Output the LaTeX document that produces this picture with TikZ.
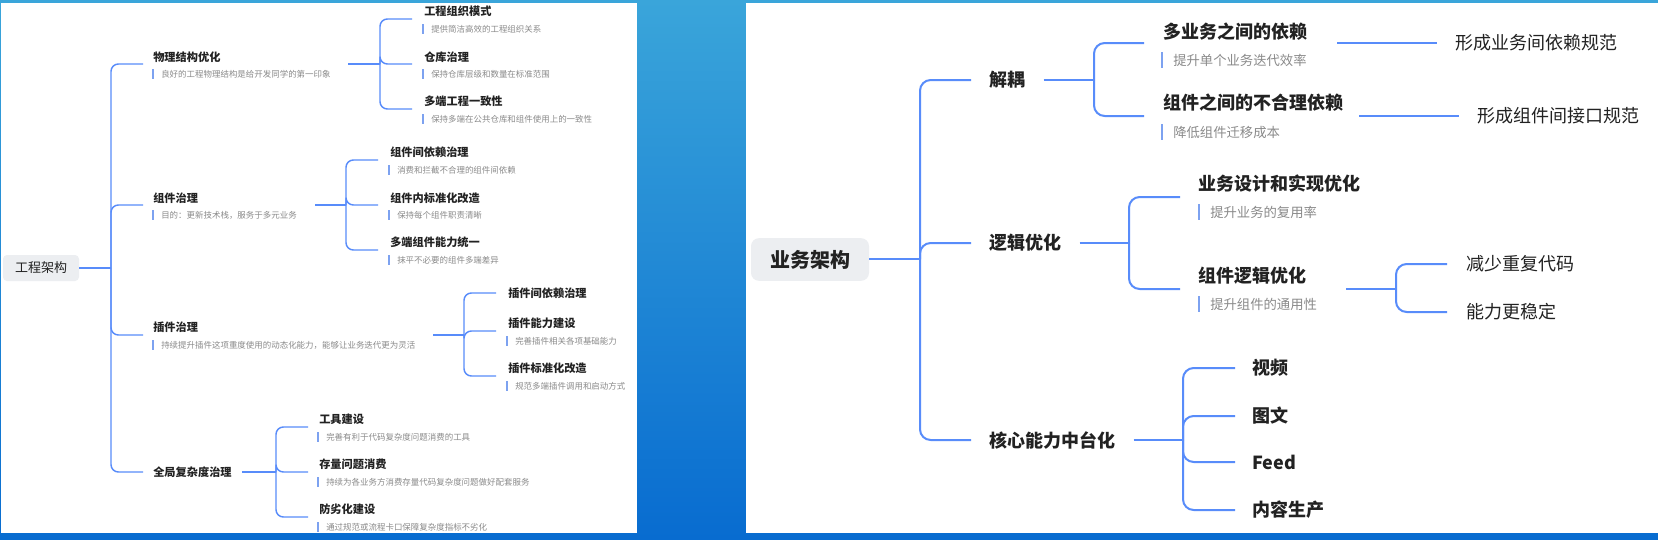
\documentclass[tikz,border=0pt]{standalone}
\usepackage{fontspec}
\setmainfont{Noto Sans CJK SC}
\definecolor{lblue}{RGB}{88,140,250}
\definecolor{barblue}{RGB}{125,162,240}
\definecolor{ttl}{RGB}{34,34,34}
\definecolor{subg}{RGB}{138,138,138}
\definecolor{rootbg}{RGB}{236,238,241}
\definecolor{bgtop}{RGB}{58,165,218}
\definecolor{bgbot}{RGB}{8,108,208}
\tikzset{
 lconn/.style={draw=lblue, line width=1.1pt, rounded corners=5.5pt},
 rconn/.style={draw=lblue, line width=1.5pt, rounded corners=8pt},
 ltitle/.style={anchor=west, inner sep=0pt, text=ttl, font=\bfseries\fontsize{8.4pt}{10pt}\selectfont},
 lsub/.style={anchor=west, inner sep=0pt, text=subg, font=\fontsize{6.35pt}{8pt}\selectfont},
 lbar/.style={draw=barblue, line width=0.9pt},
 rtitle/.style={anchor=west, inner sep=0pt, text=ttl, font=\bfseries\fontsize{13.5pt}{16pt}\selectfont},
 rleaf/.style={anchor=west, inner sep=0pt, text=ttl, font=\fontsize{13.5pt}{16pt}\selectfont},
 rsub/.style={anchor=west, inner sep=0pt, text=subg, font=\fontsize{10pt}{12pt}\selectfont},
 rbar/.style={draw=barblue, line width=1.2pt},
 lroot/.style={fill=rootbg, rounded corners=3pt, minimum width=57pt, minimum height=19.5pt, inner sep=0pt, text=ttl, font=\fontsize{9.75pt}{12pt}\selectfont},
 rroot/.style={fill=rootbg, rounded corners=6pt, minimum width=88.5pt, minimum height=32pt, inner sep=0pt, text=ttl, font=\bfseries\fontsize{15pt}{18pt}\selectfont},
}
\newcommand\Lsub[4]{\node[lsub] (#1) at (#2,#3) {#4};
  \draw[lbar] ([xshift=-6pt,yshift=0.5pt]#1.north west) -- ([xshift=-6pt,yshift=-0.5pt]#1.south west);}
\newcommand\Rsub[4]{\node[rsub] (#1) at (#2,#3) {#4};
  \draw[rbar] ([xshift=-8.25pt,yshift=1pt]#1.north west) -- ([xshift=-8.25pt,yshift=-1pt]#1.south west);}
\begin{document}
\begin{tikzpicture}[x=0.75pt,y=-0.75pt]
\useasboundingbox (0,0) rectangle (1658,539);
\shade[top color=bgtop, bottom color=bgbot] (0,0) rectangle (1658,539);
\fill[white] (1,3) rectangle (637,533);
\fill[white] (746,3) rectangle (1658,533);

% ================= LEFT PANEL =================
\node[lroot] (L0) at (41,268) {工程架构};
\coordinate (jL0) at (111,268);
\draw[lconn] (L0.east) -- (jL0);

% --- A
\coordinate (Ain) at (143,64); \coordinate (Aout) at (348,64); \coordinate (jA) at (380,64);
\node[ltitle] (A) at (153,57) {物理结构优化};
\Lsub{As}{161}{74}{良好的工程物理结构是给开发同学的第一印象}
\draw[lconn] (jL0) |- (Ain);
\draw[lconn] (Aout) -- (jA);
\coordinate (A1in) at (412,19); \coordinate (A2in) at (412,64); \coordinate (A3in) at (412,109);
\node[ltitle] (A1) at (424,11) {工程组织模式};
\Lsub{A1s}{431}{29}{提供简洁高效的工程组织关系}
\node[ltitle] (A2) at (424,57) {仓库治理};
\Lsub{A2s}{431}{74}{保持仓库层级和数量在标准范围}
\node[ltitle] (A3) at (424,101) {多端工程一致性};
\Lsub{A3s}{431}{119}{保持多端在公共仓库和组件使用上的一致性}
\draw[lconn] (jA) |- (A1in);
\draw[lconn] (jA) |- (A2in);
\draw[lconn] (jA) |- (A3in);

% --- B
\coordinate (Bin) at (143,205); \coordinate (Bout) at (315,205); \coordinate (jB) at (346,205);
\node[ltitle] (B) at (153,198) {组件治理};
\Lsub{Bs}{161}{215}{目的：更新技术栈，服务于多元业务}
\draw[lconn] (jL0) |- (Bin);
\draw[lconn] (Bout) -- (jB);
\coordinate (B1in) at (378,160); \coordinate (B2in) at (378,205); \coordinate (B3in) at (378,250);
\node[ltitle] (B1) at (390,152) {组件间依赖治理};
\Lsub{B1s}{397}{170}{消费和拦截不合理的组件间依赖}
\node[ltitle] (B2) at (390,198) {组件内标准化改造};
\Lsub{B2s}{397}{215}{保持每个组件职责清晰}
\node[ltitle] (B3) at (390,242) {多端组件能力统一};
\Lsub{B3s}{397}{260}{抹平不必要的组件多端差异}
\draw[lconn] (jB) |- (B1in);
\draw[lconn] (jB) |- (B2in);
\draw[lconn] (jB) |- (B3in);

% --- C
\coordinate (Cin) at (143,335); \coordinate (Cout) at (433,335); \coordinate (jC) at (464,335);
\node[ltitle] (C) at (153,327) {插件治理};
\Lsub{Cs}{161}{345}{持续提升插件这项重度使用的动态化能力，能够让业务迭代更为灵活}
\draw[lconn] (jL0) |- (Cin);
\draw[lconn] (Cout) -- (jC);
\coordinate (C2in) at (496,331); \coordinate (C3in) at (496,376);
\node[ltitle, inner xsep=9pt] (C1) at (496,293) {插件间依赖治理};
\node[ltitle] (C2) at (508,323) {插件能力建设};
\Lsub{C2s}{515}{341}{完善插件相关各项基础能力}
\node[ltitle] (C3) at (508,368) {插件标准化改造};
\Lsub{C3s}{515}{386}{规范多端插件调用和启动方式}
\draw[lconn] (jC) |- (C1.west);
\draw[lconn] (jC) |- (C2in);
\draw[lconn] (jC) |- (C3in);

% --- D
\node[ltitle, inner xsep=7.5pt] (D) at (143,472) {全局复杂度治理};
\coordinate (jD) at (276,472);
\draw[lconn] (jL0) |- (D.west);
\draw[lconn] (D.east) -- (jD);
\coordinate (D1in) at (308,427); \coordinate (D2in) at (308,472); \coordinate (D3in) at (308,517);
\node[ltitle] (D1) at (319,419) {工具建设};
\Lsub{D1s}{326}{437}{完善有利于代码复杂度问题消费的工具}
\node[ltitle] (D2) at (319,464) {存量问题消费};
\Lsub{D2s}{326}{482}{持续为各业务方消费存量代码复杂度问题做好配套服务}
\node[ltitle] (D3) at (319,509) {防劣化建设};
\Lsub{D3s}{326}{527}{通过规范或流程卡口保障复杂度指标不劣化}
\draw[lconn] (jD) |- (D1in);
\draw[lconn] (jD) |- (D2in);
\draw[lconn] (jD) |- (D3in);

% ================= RIGHT PANEL =================
\node[rroot] (R0) at (810,259.5) {业务架构};
\coordinate (jR0) at (920,259);
\draw[rconn] (R0.east |- jR0) -- (jR0);

% --- E
\node[rtitle, inner xsep=13.5pt] (E) at (971,80) {解耦};
\coordinate (jE) at (1094,80);
\draw[rconn] (jR0) |- (E.west);
\draw[rconn] (E.east) -- (jE);
\coordinate (E1in) at (1144,43); \coordinate (E2in) at (1144,116);
\coordinate (E1out) at (1337,43); \coordinate (E2out) at (1359,116);
\node[rtitle] (E1) at (1163,32) {多业务之间的依赖};
\Rsub{E1s}{1173}{60}{提升单个业务迭代效率}
\node[rtitle] (E2) at (1163,103) {组件之间的不合理依赖};
\Rsub{E2s}{1173}{132}{降低组件迁移成本}
\draw[rconn] (jE) |- (E1in);
\draw[rconn] (jE) |- (E2in);
\node[rleaf, inner xsep=13.5pt] (E1L) at (1437,43) {形成业务间依赖规范};
\node[rleaf, inner xsep=13.5pt] (E2L) at (1459,116) {形成组件间接口规范};
\draw[rconn] (E1out) -- (E1L.west);
\draw[rconn] (E2out) -- (E2L.west);

% --- F
\node[rtitle, inner xsep=13.5pt] (F) at (971,243) {逻辑优化};
\coordinate (jF) at (1129,243);
\draw[rconn] (jR0) |- (F.west);
\draw[rconn] (F.east) -- (jF);
\coordinate (F1in) at (1180,197); \coordinate (F2in) at (1180,289);
\node[rtitle] (F1) at (1198,184) {业务设计和实现优化};
\Rsub{F1s}{1210}{212}{提升业务的复用率}
\node[rtitle] (F2) at (1198,276) {组件逻辑优化};
\Rsub{F2s}{1210}{304}{提升组件的通用性}
\draw[rconn] (jF) |- (F1in);
\draw[rconn] (jF) |- (F2in);
\coordinate (F2out) at (1346,289); \coordinate (jF2) at (1396,289);
\draw[rconn] (F2out) -- (jF2);
\node[rleaf, inner xsep=14.25pt] (F21) at (1447,264) {减少重复代码};
\node[rleaf, inner xsep=14.25pt] (F22) at (1447,312) {能力更稳定};
\draw[rconn] (jF2) |- (F21.west);
\draw[rconn] (jF2) |- (F22.west);

% --- G
\node[rtitle, inner xsep=13.5pt] (G) at (971,440) {核心能力中台化};
\coordinate (jG) at (1183,440);
\draw[rconn] (jR0) |- (G.west);
\draw[rconn] (G.east) -- (jG);
\node[rtitle, inner xsep=12.75pt] (G1) at (1235,368) {视频};
\node[rtitle, inner xsep=12.75pt] (G2) at (1235,416) {图文};
\node[rtitle, inner xsep=12.75pt] (G3) at (1235,462) {Feed};
\node[rtitle, inner xsep=12.75pt] (G4) at (1235,510) {内容生产};
\draw[rconn] (jG) |- (G1.west);
\draw[rconn] (jG) |- (G2.west);
\draw[rconn] (jG) |- (G3.west);
\draw[rconn] (jG) |- (G4.west);
\end{tikzpicture}
\end{document}
